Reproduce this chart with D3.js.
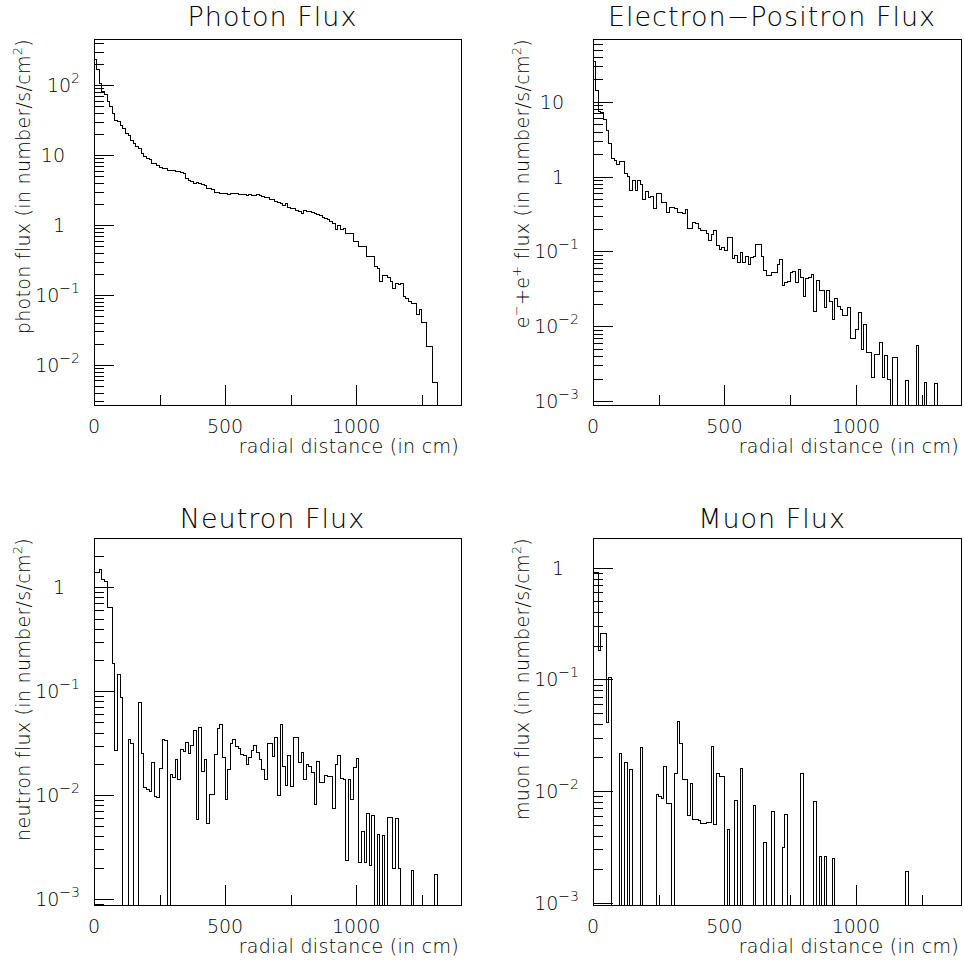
<!DOCTYPE html>
<html>
<head>
<meta charset="utf-8">
<script src="https://cdn.jsdelivr.net/npm/d3@7"></script>
<style>
  body { margin: 0; background: #fff; }
  svg text { font-family: "DejaVu Sans", sans-serif; font-weight: 200; fill: #000; }
</style>
</head>
<body>
<div id="chart"></div>
<script>
// histogram bins are 10 cm wide, starting at 0
var binWidth = 10;

var photonFlux = [233, 165, 106, 80, 74, 58, 49, 39, 31.6, 30,
  26.8, 24, 20.4, 19.3, 16.4, 14.7, 13.4, 12.4, 10.6, 9.6,
  8.8, 8.6, 7.7, 7.5, 7.2, 6.6, 6.5, 6.4, 6.1, 6.1,
  6.0, 5.9, 5.85, 5.7, 5.5, 4.65, 4.3, 4.2, 3.95, 4.0,
  3.9, 3.75, 3.7, 3.35, 3.3, 3.2, 2.95, 2.9, 2.85, 2.8,
  2.85, 2.75, 2.85, 2.8, 2.85, 2.75, 2.7, 2.75, 2.65, 2.7,
  2.68, 2.65, 2.7, 2.6, 2.55, 2.5, 2.45, 2.35, 2.3, 2.2,
  2.1, 2.05, 1.9, 2.0, 1.8, 1.75, 1.7, 1.6, 1.55, 1.45,
  1.6, 1.57, 1.55, 1.5, 1.47, 1.42, 1.35, 1.3, 1.25, 1.2,
  1.12, 1.06, 0.85, 0.97, 0.85, 0.9, 0.76, 0.76, 0.76, 0.58,
  0.58, 0.5, 0.5, 0.49, 0.353, 0.35, 0.35, 0.254, 0.24, 0.155,
  0.19, 0.187, 0.18, 0.155, 0.125, 0.147, 0.14, 0.147, 0.095, 0.09,
  0.08, 0.076, 0.076, 0.052, 0.061, 0.04, 0.04, 0.018, 0.018, 0.0056,
  0.0056];

var electronFlux = [35, 14.3, 7.4, 7.2, 5.9, 4.2, 2.8, 1.77, 1.66, 1.44,
  1.6, 1.6, 1.1, 1.0, 0.66, 0.88, 0.65, 0.88, 0.79, 0.5,
  0.63, 0.52, 0.55, 0.37, 0.6, 0.6, 0.45, 0.45, 0.33, 0.387,
  0.385, 0.38, 0.332, 0.332, 0.322, 0.368, 0.205, 0.205, 0.244, 0.237,
  0.2, 0.189, 0.189, 0.174, 0.139, 0.171, 0.189, 0.119, 0.107, 0.113,
  0.104, 0.154, 0.154, 0.0815, 0.0875, 0.0713, 0.096, 0.0713, 0.085, 0.0664,
  0.083, 0.087, 0.123, 0.123, 0.085, 0.0552, 0.0473, 0.0473, 0.0525, 0.052,
  0.067, 0.078, 0.035, 0.039, 0.040, 0.052, 0.0546, 0.038, 0.0575, 0.0444,
  0.025, 0.0437, 0.0444, 0.05, 0.0158, 0.041, 0.030, 0.030, 0.0176, 0.030,
  0.0216, 0.0123, 0.0234, 0.0186, 0.0168, 0.0141, 0.0141, 0.018, 0.00687, 0.00687,
  0.0091, 0.0151, 0.0049, 0.0107, 0.0044, 0.0044, 0.0021, 0.0042, 0.0042, 0.006,
  0.00204, 0.0041, 0.00194, 0, 0.00386, 0.00386, 0, 0, 0, 0.00188,
  0, 0, 0, 0.00553, 0, 0, 0.00175, 0, 0, 0,
  0.0017];

var neutronFlux = [1.38, 1.38, 1.47, 1.18, 1.13, 0.637, 0.637, 0.183, 0.0269, 0.1435,
  0.0875, 0, 0, 0.034, 0.0316, 0, 0, 0.0784, 0.025, 0.0117,
  0.0112, 0.0108, 0.0206, 0.0097, 0.0094, 0.018, 0.0346, 0.0336, 0, 0.0157,
  0.0149, 0.0219, 0.014, 0.0273, 0.0263, 0.0324, 0.0253, 0.0298, 0.0419, 0.0058,
  0.0451, 0.0169, 0.0219, 0.0053, 0.0101, 0.0101, 0.0244, 0.0434, 0.0474, 0.023,
  0.009, 0.0178, 0.0312, 0.0346, 0.0294, 0.0283, 0.0244, 0.0239, 0.0196, 0.0232,
  0.0269, 0.0298, 0.0257, 0.0219, 0.0178, 0.014, 0.0316, 0.0312, 0.0235, 0.036,
  0.0098, 0.0483, 0.019, 0.0125, 0.0243, 0.0122, 0.0357, 0.0357, 0.0205, 0.0256,
  0.0142, 0.0195, 0.019, 0.0164, 0.0081, 0.021, 0.0132, 0.0132, 0.0153, 0.015,
  0.015, 0.0075, 0.0195, 0.0243, 0.0145, 0.014, 0.00234, 0.014, 0.0091, 0.0185,
  0.0226, 0.00224, 0.00445, 0.00224, 0.0066, 0.00212, 0.00634, 0, 0.0042, 0,
  0.0041, 0, 0.00606, 0.00606, 0.00196, 0.0059, 0.00196, 0, 0, 0,
  0, 0.0019, 0, 0, 0, 0, 0, 0, 0, 0,
  0.00173];

var muonFlux = [0.9, 0.9, 0.183, 0.255, 0.255, 0.041, 0.104, 0, 0, 0,
  0.0217, 0, 0.0181, 0, 0.0157, 0, 0, 0, 0.0246, 0,
  0, 0, 0, 0, 0.0094, 0.009, 0.0086, 0.0167, 0.0078, 0.0078,
  0, 0.0144, 0.0418, 0.0267, 0.0127, 0.0127, 0.0061, 0.0117, 0.0056, 0.0056,
  0.0054, 0.0051, 0.0051, 0.0052, 0.0052, 0.0249, 0.005, 0.0144, 0.0136, 0.0136,
  0, 0.0045, 0, 0, 0.0083, 0, 0.016, 0, 0, 0,
  0, 0.0074, 0, 0, 0, 0.00347, 0, 0, 0.0066, 0,
  0, 0, 0.00313, 0.0062, 0, 0, 0, 0, 0, 0.0144,
  0, 0, 0, 0, 0.008, 0, 0.00262, 0, 0.00258, 0,
  0, 0.0025, 0, 0, 0, 0, 0, 0, 0, 0,
  0, 0, 0, 0, 0, 0, 0, 0, 0, 0,
  0, 0, 0, 0, 0, 0, 0, 0, 0, 0.0019,
  0, 0, 0, 0, 0, 0, 0, 0, 0, 0,
  0];

var titles = ["Photon Flux", "Electron\u2212Positron Flux", "Neutron Flux", "Muon Flux"];
var xTitle = "radial distance (in cm)";
var xRange = [0, 1400];
var xMajorTicks = [0, 500, 1000];
var xMinorTicks = [250, 750, 1250];
// y axis ranges (log scale), bottom and top of each frame
var yRanges = [[0.00266, 458], [0.000887, 69.3], [0.000875, 2.98], [0.000955, 1.845]];
// y titles as pieces: [text, isSuperscript]
var yTitles = [
  [["photon flux (in number/s/cm", false], ["2", true], [")", false]],
  [["e", false], ["\u2212", true], ["+e", false], ["+", true], [" flux (in number/s/cm", false], ["2", true], [")", false]],
  [["neutron flux (in number/s/cm", false], ["2", true], [")", false]],
  [["muon flux (in number/s/cm", false], ["2", true], [")", false]]
];

var series = [photonFlux, electronFlux, neutronFlux, muonFlux];

// frame positions of the four pads
var pads = [
  {x0: 94, x1: 461, y0: 39, y1: 405, titleY: 26},
  {x0: 593, x1: 961, y0: 39, y1: 405, titleY: 26},
  {x0: 94, x1: 461, y0: 538, y1: 905, titleY: 528},
  {x0: 593, x1: 961, y0: 538, y1: 905, titleY: 528}
];

var svg = d3.select("#chart").append("svg")
    .attr("width", 964)
    .attr("height", 962);

svg.append("rect").attr("width", 964).attr("height", 962).attr("fill", "#fff");

pads.forEach(function(p, i) {
  drawPad(p, series[i], titles[i], yTitles[i], yRanges[i], i);
});

function drawPad(p, values, title, yTitle, yRange, idx) {
  var x = d3.scaleLinear().domain(xRange).range([p.x0, p.x1]);
  var y = d3.scaleLog().domain(yRange).range([p.y1, p.y0]);
  var g = svg.append("g");

  g.append("clipPath").attr("id", "clip" + idx)
    .append("rect")
      .attr("x", p.x0).attr("y", p.y0)
      .attr("width", p.x1 - p.x0).attr("height", p.y1 - p.y0);

  // histogram as a step line; empty bins go down to the frame bottom
  var pts = [[x(0), p.y1]];
  values.forEach(function(v, k) {
    var yy = v > 0 ? y(v) : p.y1;
    pts.push([x(k * binWidth), yy]);
    pts.push([x((k + 1) * binWidth), yy]);
  });
  pts.push([x(values.length * binWidth), p.y1]);

  g.append("path")
      .attr("clip-path", "url(#clip" + idx + ")")
      .attr("d", d3.line()(pts))
      .attr("fill", "none")
      .attr("stroke", "#000")
      .attr("stroke-width", 1)
      .attr("shape-rendering", "crispEdges");

  // y ticks, drawn inward from the left frame edge
  var lo = Math.floor(Math.log10(yRange[0])), hi = Math.ceil(Math.log10(yRange[1]));
  var majors = [], minors = [];
  for (var k = lo; k <= hi; k++) {
    for (var m = 1; m <= 9; m++) {
      var v = m * Math.pow(10, k);
      if (v < yRange[0] || v > yRange[1]) continue;
      if (m === 1) majors.push(v); else minors.push(v);
    }
  }
  g.append("g")
      .attr("transform", "translate(" + p.x0 + ",0)")
      .call(d3.axisRight(y).tickValues(majors).tickSize(20).tickFormat(""))
      .call(function(a) { a.select(".domain").remove(); });
  g.append("g")
      .attr("transform", "translate(" + p.x0 + ",0)")
      .call(d3.axisRight(y).tickValues(minors).tickSize(10).tickFormat(""))
      .call(function(a) { a.select(".domain").remove(); });

  majors.forEach(function(v) {
    var e = Math.round(Math.log10(v));
    var t = g.append("text")
        .attr("y", y(v))
        .attr("dy", "0.36em")
        .attr("font-size", 19)
        .attr("text-anchor", "end");
    if (e === 0 || e === 1) {
      t.attr("x", p.x0 - 29).text(e === 0 ? "1" : "10");
    } else {
      t.attr("x", p.x0 - 14);
      t.append("tspan").text("10");
      t.append("tspan")
          .attr("dy", -9)
          .attr("font-size", 14)
          .text((e < 0 ? "\u2212" : "") + Math.abs(e));
    }
  });

  // x ticks, drawn upward from the bottom frame edge
  g.append("g")
      .attr("transform", "translate(0," + p.y1 + ")")
      .call(d3.axisTop(x).tickValues(xMajorTicks).tickSize(20).tickFormat(""))
      .call(function(a) { a.select(".domain").remove(); });
  g.append("g")
      .attr("transform", "translate(0," + p.y1 + ")")
      .call(d3.axisTop(x).tickValues(xMinorTicks).tickSize(10).tickFormat(""))
      .call(function(a) { a.select(".domain").remove(); });

  g.selectAll(".tick line").attr("stroke", "#000").attr("shape-rendering", "crispEdges");

  g.selectAll(".xlabel")
    .data(xMajorTicks)
    .enter().append("text")
      .attr("class", "xlabel")
      .attr("x", function(d) { return x(d); })
      .attr("y", p.y1 + 28)
      .attr("font-size", 19)
      .attr("text-anchor", "middle")
      .text(function(d) { return d; });

  // frame
  g.append("rect")
      .attr("x", p.x0 + 0.5).attr("y", p.y0 + 0.5)
      .attr("width", p.x1 - p.x0).attr("height", p.y1 - p.y0)
      .attr("fill", "none")
      .attr("stroke", "#000")
      .attr("shape-rendering", "crispEdges");

  // titles
  g.append("text")
      .attr("x", (p.x0 + p.x1) / 2 - 5)
      .attr("y", p.titleY)
      .attr("font-size", 27)
      .attr("letter-spacing", 1)
      .attr("text-anchor", "middle")
      .text(title);

  g.append("text")
      .attr("x", p.x1 - 2)
      .attr("y", p.y1 + 48)
      .attr("font-size", 19)
      .attr("letter-spacing", 0.3)
      .attr("text-anchor", "end")
      .text(xTitle);

  var yt = g.append("text")
      .attr("transform", "translate(" + (p.x0 - 64) + "," + p.y0 + ") rotate(-90)")
      .attr("font-size", 19)
      .attr("letter-spacing", 0.3)
      .attr("text-anchor", "end");
  var shift = 0;
  yTitle.forEach(function(part) {
    var ts = yt.append("tspan").text(part[0]);
    if (part[1]) {
      ts.attr("dy", -8 - shift).attr("font-size", 13);
      shift = -8;
    } else if (shift !== 0) {
      ts.attr("dy", -shift);
      shift = 0;
    }
  });
}
</script>
</body>
</html>
